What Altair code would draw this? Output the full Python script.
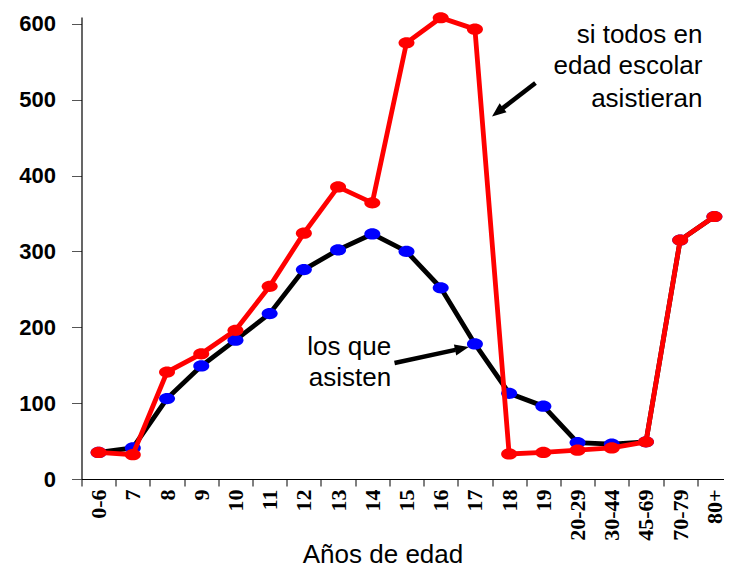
import altair as alt
import pandas as pd

# ---- data ----
categories = ["0-6", "7", "8", "9", "10", "11", "12", "13", "14", "15", "16",
              "17", "18", "19", "20-29", "30-44", "45-69", "70-79", "80+"]
asisten = [35, 41, 106, 149, 183, 218, 276, 302, 323, 300, 252, 178, 113, 96,
           48, 46, 49, 315, 346]
todos = [35, 32, 141, 165, 196, 254, 324, 385, 364, 575, 608, 593, 33, 35,
         38, 41, 49, 315, 346]
y_ticks = [0, 100, 200, 300, 400, 500, 600]

# annotations (x in band units 0..19, y in data units)
todos_lines = ["si todos en", "edad escolar", "asistieran"]
todos_x = [18.15, 18.15, 18.15]
todos_y = [575, 534, 490]
asisten_lines = ["los que", "asisten"]
asisten_x = [9.05, 9.05]
asisten_y = [163, 123]
arrow_tail_x = [13.27, 9.15]
arrow_tail_y = [522, 153]
arrow_tip_x = [12.0, 11.32]
arrow_tip_y = [478, 174]
arrow_angle = [232, 78]

# ---- tables ----
df_a = pd.DataFrame({"cat": categories, "idx": list(range(len(categories))), "v": asisten})
df_t = pd.DataFrame({"cat": categories, "idx": list(range(len(categories))), "v": todos})
shaft = 0.82
df_arrow = pd.DataFrame({
    "x": arrow_tail_x, "y": arrow_tail_y,
    "x2": [a + shaft * (b - a) for a, b in zip(arrow_tail_x, arrow_tip_x)],
    "y2": [a + shaft * (b - a) for a, b in zip(arrow_tail_y, arrow_tip_y)],
})
df_head = pd.DataFrame({"x": arrow_tip_x, "y": arrow_tip_y, "angle": arrow_angle})
df_txt1 = pd.DataFrame({"x": todos_x, "y": todos_y, "t": todos_lines})
df_txt2 = pd.DataFrame({"x": asisten_x, "y": asisten_y, "t": asisten_lines})

W, H = 650, 462
yscale = alt.Scale(domain=[0, 609], nice=False, zero=True)
xscale = alt.Scale(type="band", domain=categories, paddingInner=0, paddingOuter=0)
ellipse = "M-1,0A1,0.7,0,1,1,1,0A1,0.7,0,1,1,-1,0Z"
arrowhead = "M0,0L-0.8,2L0.8,2Z"

x_axis = alt.Axis(
    tickBand="extent", labelAngle=-90, labelFont="Liberation Serif",
    labelFontWeight="bold", labelFontSize=22, labelColor="black",
    labelPadding=3, tickSize=7, tickColor="black", domainColor="black",
    domainWidth=1.2, labelOverlap=False,
    title="Años de edad", titleFont="Liberation Sans", titleFontSize=26,
    titleFontWeight="normal", titleColor="black", titleX=301, titleY=83,
    titleBaseline="alphabetic", titleAlign="center",
)
y_axis = alt.Axis(
    values=y_ticks, tickSize=10, tickColor="#555555", domainColor="black",
    domainWidth=1.2, labelFont="Liberation Sans", labelFontWeight="bold",
    labelFontSize=22, labelColor="black", labelPadding=16, title=None, grid=False,
)

X = alt.X("cat:N", scale=xscale, axis=x_axis)
Y = alt.Y("v:Q", scale=yscale, axis=y_axis)

line_a = alt.Chart(df_a).mark_line(color="black", strokeWidth=4.8).encode(
    x=X, y=Y, order="idx:Q")
pts_a = alt.Chart(df_a).mark_point(filled=True, opacity=1, shape=ellipse, size=256,
                                   color="#0000FF").encode(x=X, y=Y)
line_t = alt.Chart(df_t).mark_line(color="#FF0000", strokeWidth=4.8).encode(
    x=X, y=Y, order="idx:Q")
pts_t = alt.Chart(df_t).mark_point(filled=True, opacity=1, shape=ellipse, size=256,
                                   color="#FF0000").encode(x=X, y=Y)

main = alt.layer(line_a, pts_a, line_t, pts_t)

ax_scale = alt.Scale(domain=[0, 19], nice=False, zero=False)
AX = alt.X("x:Q", scale=ax_scale, axis=None)
AY = alt.Y("y:Q", scale=yscale, axis=y_axis)

rule = alt.Chart(df_arrow).mark_rule(color="black", strokeWidth=4.5, strokeCap="butt").encode(
    x=AX, y=AY, x2="x2:Q", y2="y2:Q")
head = alt.Chart(df_head).mark_point(filled=True, opacity=1, shape=arrowhead, size=196,
                                     color="black").encode(
    x=AX, y=AY, angle=alt.Angle("angle:Q", scale=None))
txt1 = alt.Chart(df_txt1).mark_text(font="Liberation Sans", fontSize=26, align="right",
                                    baseline="alphabetic", color="black").encode(
    x=AX, y=AY, text="t:N")
txt2 = alt.Chart(df_txt2).mark_text(font="Liberation Sans", fontSize=26, align="right",
                                    baseline="alphabetic", color="black").encode(
    x=AX, y=AY, text="t:N")

annot = alt.layer(rule, head, txt1, txt2)

chart = alt.layer(main, annot).resolve_scale(x="independent").properties(
    width=W, height=H,
    autosize=alt.AutoSizeParams(type="none"),
    padding={"left": 73.5, "top": 9, "right": -7.5, "bottom": 85},
    background="white",
).configure_view(stroke=None)

chart.save("out.html", embed_options={"renderer": "svg", "actions": False})
